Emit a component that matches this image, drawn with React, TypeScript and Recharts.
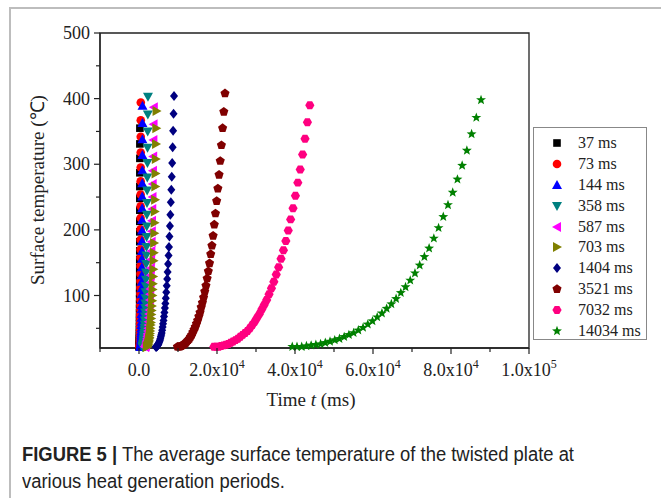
import { ScatterChart, Scatter, XAxis, YAxis, ReferenceArea, Legend } from "recharts";

// time (ms) / average surface temperature (°C) for each heat generation period
const time37 = [100, 103, 107, 110, 113, 116, 120, 123, 126, 129, 133, 136, 139, 142, 146, 149, 152, 155, 159, 162, 165, 168, 172, 175, 178, 181, 185, 188, 191, 194, 198, 201, 204, 207, 211, 214, 217, 220, 224, 227, 230];
const temp37 = [22, 22, 22, 23, 24, 25, 26, 27, 29, 31, 33, 35, 38, 41, 44, 48, 52, 57, 62, 67, 73, 80, 87, 95, 103, 111, 121, 132, 143, 155, 168, 182, 197, 213, 230, 248, 266, 287, 309, 331, 355];

const time73 = [200, 207, 213, 220, 226, 233, 239, 246, 252, 259, 265, 272, 278, 285, 291, 298, 304, 311, 317, 324, 330, 337, 343, 350, 356, 363, 369, 376, 382, 389, 395, 402, 408, 415, 421, 428, 434, 441, 447, 454, 460];
const temp73 = [22, 22, 22, 23, 24, 25, 26, 28, 30, 32, 34, 37, 40, 43, 47, 51, 56, 61, 67, 72, 79, 86, 94, 103, 112, 122, 133, 145, 158, 170, 185, 201, 218, 236, 254, 274, 295, 318, 342, 367, 394];

const time144 = [400, 413, 425, 438, 450, 463, 475, 488, 500, 513, 525, 538, 550, 563, 575, 588, 600, 613, 625, 638, 650, 663, 675, 688, 700, 713, 725, 738, 750, 763, 775, 788, 800, 813, 825, 838, 850, 863, 875, 888, 900];
const temp144 = [22, 22, 22, 23, 24, 25, 26, 28, 30, 32, 34, 37, 40, 43, 46, 50, 55, 60, 66, 72, 79, 85, 93, 102, 111, 121, 131, 143, 156, 168, 183, 199, 215, 233, 251, 271, 291, 314, 338, 363, 389];

const time358 = [900, 935, 970, 1005, 1040, 1075, 1110, 1145, 1180, 1215, 1250, 1285, 1320, 1355, 1390, 1425, 1460, 1495, 1530, 1565, 1600, 1635, 1670, 1705, 1740, 1775, 1810, 1845, 1880, 1915, 1950, 1985, 2020, 2055, 2090, 2125, 2160, 2195, 2230, 2265, 2300];
const temp358 = [22, 22, 22, 23, 24, 25, 26, 28, 30, 32, 34, 37, 40, 43, 47, 51, 56, 62, 68, 74, 81, 88, 96, 105, 114, 124, 135, 148, 161, 174, 189, 205, 223, 241, 260, 280, 302, 325, 350, 376, 403];

const time587 = [1500, 1560, 1620, 1670, 1730, 1790, 1850, 1900, 1960, 2020, 2080, 2130, 2190, 2250, 2310, 2360, 2420, 2480, 2540, 2590, 2650, 2710, 2770, 2820, 2880, 2940, 3000, 3050, 3110, 3170, 3230, 3280, 3340, 3400, 3460, 3510, 3570, 3630, 3690, 3740, 3800];
const temp587 = [22, 22, 22, 23, 24, 25, 26, 28, 30, 32, 34, 37, 40, 42, 46, 50, 55, 60, 66, 72, 78, 85, 93, 102, 110, 120, 131, 142, 155, 168, 182, 198, 214, 232, 250, 270, 290, 312, 337, 361, 387];

const time703 = [2000, 2060, 2130, 2190, 2250, 2310, 2380, 2440, 2500, 2560, 2630, 2690, 2750, 2810, 2880, 2940, 3000, 3060, 3130, 3190, 3250, 3310, 3380, 3440, 3500, 3560, 3630, 3690, 3750, 3810, 3880, 3940, 4000, 4060, 4130, 4190, 4250, 4310, 4380, 4440, 4500];
const temp703 = [22, 22, 22, 23, 24, 25, 26, 28, 30, 32, 34, 36, 39, 42, 46, 50, 55, 59, 65, 71, 77, 84, 92, 100, 109, 118, 129, 140, 153, 165, 180, 195, 211, 228, 246, 266, 286, 308, 331, 355, 381];

const time1404 = [4300, 4420, 4530, 4650, 4770, 4890, 5000, 5120, 5240, 5350, 5470, 5590, 5700, 5820, 5940, 6060, 6170, 6290, 6410, 6520, 6640, 6760, 6870, 6990, 7110, 7230, 7340, 7460, 7580, 7690, 7810, 7930, 8040, 8160, 8280, 8400, 8510, 8630, 8750, 8860, 8980];
const temp1404 = [22, 22, 22, 23, 24, 25, 26, 28, 30, 32, 34, 37, 40, 43, 47, 52, 57, 62, 68, 74, 81, 88, 96, 105, 115, 125, 136, 148, 161, 174, 190, 206, 223, 242, 261, 281, 302, 326, 351, 377, 404];

const time3521 = [9850, 10155, 10460, 10765, 11070, 11375, 11680, 11985, 12290, 12595, 12900, 13205, 13510, 13815, 14120, 14425, 14730, 15035, 15340, 15645, 15950, 16255, 16560, 16865, 17170, 17475, 17780, 18085, 18390, 18695, 19000, 19305, 19610, 19915, 20220, 20525, 20830, 21135, 21440, 21745, 22050];
const temp3521 = [22, 22, 22, 23, 24, 25, 26, 28, 30, 32, 34, 37, 40, 44, 48, 52, 57, 62, 68, 74, 82, 89, 97, 106, 115, 126, 137, 149, 163, 176, 191, 208, 225, 244, 263, 284, 305, 329, 355, 380, 408];

const time7032 = [19200, 19815, 20430, 21045, 21660, 22275, 22890, 23505, 24120, 24735, 25350, 25965, 26580, 27195, 27810, 28425, 29040, 29655, 30270, 30885, 31500, 32115, 32730, 33345, 33960, 34575, 35190, 35805, 36420, 37035, 37650, 38265, 38880, 39495, 40110, 40725, 41340, 41955, 42570, 43185, 43800];
const temp7032 = [22, 22, 22, 23, 24, 25, 26, 28, 30, 32, 34, 37, 40, 43, 46, 50, 55, 60, 66, 72, 79, 86, 93, 102, 111, 121, 132, 143, 156, 169, 183, 199, 216, 233, 252, 272, 292, 315, 339, 364, 390];

const time14034 = [39300, 40510, 41720, 42930, 44140, 45350, 46560, 47770, 48980, 50190, 51400, 52610, 53820, 55030, 56240, 57450, 58660, 59870, 61080, 62290, 63500, 64710, 65920, 67130, 68340, 69550, 70760, 71970, 73180, 74390, 75600, 76810, 78020, 79230, 80440, 81650, 82860, 84070, 85280, 86490, 87700];
const temp14034 = [22, 22, 22, 23, 24, 25, 26, 28, 30, 32, 34, 37, 40, 43, 47, 51, 56, 61, 67, 73, 80, 87, 95, 104, 113, 123, 134, 146, 159, 172, 187, 203, 220, 238, 257, 277, 298, 321, 346, 371, 398];

const seriesNames = ["37 ms", "73 ms", "144 ms", "358 ms", "587 ms", "703 ms", "1404 ms", "3521 ms", "7032 ms", "14034 ms"];
const seriesTimes = [time37, time73, time144, time358, time587, time703, time1404, time3521, time7032, time14034];
const seriesTemps = [temp37, temp73, temp144, temp358, temp587, temp703, temp1404, temp3521, temp7032, temp14034];
const seriesColors = ["#000000", "#ff0000", "#0000ff", "#008080", "#ff00ff", "#808000", "#000080", "#800000", "#ff0080", "#008000"];
const seriesShapes = ["square", "circle", "up", "down", "left", "right", "diamond", "pentagon", "hexagon", "star"];

const xTicks = [-10000, 0, 10000, 20000, 30000, 40000, 50000, 60000, 70000, 80000, 90000, 100000];
const xMajor = [0, 20000, 40000, 60000, 80000, 100000];
const xLabelBase = ["0.0", "2.0x10", "4.0x10", "6.0x10", "8.0x10", "1.0x10"];
const xLabelExp = ["", "4", "4", "4", "4", "5"];
const yTicks = [50, 100, 150, 200, 250, 300, 350, 400, 450, 500];
const yMajor = [100, 200, 300, 400, 500];

const serif = "'Liberation Serif', 'Times New Roman', serif";
const axisColor = "#222";

const series = seriesNames.map((name, i) => ({
  name,
  color: seriesColors[i],
  kind: seriesShapes[i],
  data: seriesTimes[i].map((t, j) => ({ t, T: seriesTemps[i][j] })),
}));

function polygon(cx: number, cy: number, r: number, n: number, rot: number) {
  const pts: string[] = [];
  for (let k = 0; k < n; k++) {
    const a = rot + (k * 2 * Math.PI) / n;
    pts.push(`${cx + r * Math.cos(a)},${cy + r * Math.sin(a)}`);
  }
  return pts.join(" ");
}

function starPoints(cx: number, cy: number, ro: number, ri: number) {
  const pts: string[] = [];
  for (let k = 0; k < 10; k++) {
    const a = -Math.PI / 2 + (k * Math.PI) / 5;
    const r = k % 2 === 0 ? ro : ri;
    pts.push(`${cx + r * Math.cos(a)},${cy + r * Math.sin(a)}`);
  }
  return pts.join(" ");
}

function Marker({ cx, cy, kind, color }: { cx: number; cy: number; kind: string; color: string }) {
  if (cx == null || cy == null) return null;
  switch (kind) {
    case "square":
      return <rect x={cx - 3.8} y={cy - 3.8} width={7.6} height={7.6} fill={color} />;
    case "circle":
      return <circle cx={cx} cy={cy} r={4.3} fill={color} />;
    case "up":
      return <polygon points={`${cx},${cy - 5} ${cx - 5},${cy + 4} ${cx + 5},${cy + 4}`} fill={color} />;
    case "down":
      return <polygon points={`${cx},${cy + 5} ${cx - 5},${cy - 4} ${cx + 5},${cy - 4}`} fill={color} />;
    case "left":
      return <polygon points={`${cx - 5},${cy} ${cx + 4},${cy - 5} ${cx + 4},${cy + 5}`} fill={color} />;
    case "right":
      return <polygon points={`${cx + 5},${cy} ${cx - 4},${cy - 5} ${cx - 4},${cy + 5}`} fill={color} />;
    case "diamond":
      return <polygon points={`${cx},${cy - 5} ${cx + 4},${cy} ${cx},${cy + 5} ${cx - 4},${cy}`} fill={color} />;
    case "pentagon":
      return <polygon points={polygon(cx, cy, 4.8, 5, -Math.PI / 2)} fill={color} />;
    case "hexagon":
      return <polygon points={polygon(cx, cy, 4.6, 6, 0)} fill={color} />;
    default:
      return <polygon points={starPoints(cx, cy, 5.2, 2.2)} fill={color} />;
  }
}

function XTick({ x, y, payload }: any) {
  const v = payload.value;
  const idx = xMajor.indexOf(v);
  const major = idx >= 0;
  return (
    <g>
      <line x1={x} y1={y} x2={x} y2={y + (major ? 6 : 4)} stroke={axisColor} strokeWidth={1.2} />
      {major && (
        <text x={x} y={y + 28} textAnchor="middle" fontFamily={serif} fontSize={18} fill="#222">
          <tspan>{xLabelBase[idx]}</tspan>
          {xLabelExp[idx] && (
            <tspan dy={-8} fontSize={12}>
              {xLabelExp[idx]}
            </tspan>
          )}
        </text>
      )}
    </g>
  );
}

function YTick({ x, y, payload }: any) {
  const v = payload.value;
  const major = yMajor.includes(v);
  return (
    <g>
      <line x1={x} y1={y} x2={x - (major ? 6 : 4)} y2={y} stroke={axisColor} strokeWidth={1.2} />
      {major && (
        <text x={x - 10} y={y + 6} textAnchor="end" fontFamily={serif} fontSize={18} fill="#222">
          {v}
        </text>
      )}
    </g>
  );
}

function LegendBox() {
  return (
    <div
      style={{
        width: 114,
        height: 213,
        border: "1px solid #888",
        background: "#fff",
        paddingTop: 5,
        boxSizing: "border-box",
        fontFamily: serif,
        fontSize: 16,
        color: "#222",
      }}
    >
      {series.map((s) => (
        <div key={s.name} style={{ display: "flex", alignItems: "center", height: 20.8 }}>
          <svg width={44} height={20} style={{ flex: "none" }}>
            <Marker cx={23} cy={10} kind={s.kind} color={s.color} />
          </svg>
          <span style={{ whiteSpace: "nowrap" }}>{s.name}</span>
        </div>
      ))}
    </div>
  );
}

export default function App() {
  return (
    <div style={{ position: "absolute", left: 0, top: 0, width: 661, height: 498, background: "#fff", overflow: "hidden" }}>
      <div
        style={{
          position: "absolute",
          left: 9,
          top: 7,
          width: 660,
          height: 500,
          borderTop: "2px solid #bdbdbd",
          borderLeft: "2px solid #bdbdbd",
        }}
      />
      <div style={{ position: "absolute", left: 0, top: 0 }}>
        <ScatterChart width={661} height={420} margin={{ top: 33, right: 132, bottom: 0, left: 0 }}>
          <XAxis
            type="number"
            dataKey="t"
            domain={[-10000, 100000]}
            ticks={xTicks}
            interval={0}
            height={72}
            tickSize={0}
            tickMargin={0}
            tickLine={false}
            tick={<XTick />}
            axisLine={{ stroke: axisColor, strokeWidth: 1.3 }}
            label={{
              content: () => (
                <text x={311} y={406} textAnchor="middle" fontFamily={serif} fontSize={19} fill="#222">
                  Time <tspan fontStyle="italic">t</tspan> (ms)
                </text>
              ),
            }}
          />
          <YAxis
            type="number"
            dataKey="T"
            domain={[20, 500]}
            ticks={yTicks}
            interval={0}
            width={100}
            tickSize={0}
            tickMargin={0}
            tickLine={false}
            tick={<YTick />}
            axisLine={{ stroke: axisColor, strokeWidth: 1.3 }}
            label={{
              content: () => (
                <text
                  x={37}
                  y={190}
                  transform="rotate(-90 37 190)"
                  textAnchor="middle"
                  dominantBaseline="central"
                  fontFamily={serif}
                  fontSize={19}
                  fill="#222"
                >
                  Surface temperature (℃)
                </text>
              ),
            }}
          />
          <ReferenceArea x1={-10000} x2={100000} y1={20} y2={500} fill="none" stroke={axisColor} strokeWidth={1.3} />
          {series.map((s) => (
            <Scatter
              key={s.name}
              name={s.name}
              data={s.data}
              fill={s.color}
              isAnimationActive={false}
              shape={(p: any) => <Marker cx={p.cx} cy={p.cy} kind={s.kind} color={s.color} />}
            />
          ))}
          <Legend
            layout="vertical"
            align="center"
            verticalAlign="middle"
            wrapperStyle={{ left: 533, top: 127, width: 114, height: 213 }}
            content={() => <LegendBox />}
          />
        </ScatterChart>
      </div>
      <div
        style={{
          position: "absolute",
          left: 22,
          top: 441,
          fontFamily: "'Liberation Sans', Arial, sans-serif",
          fontSize: 20,
          lineHeight: "27px",
          color: "#222",
          whiteSpace: "nowrap",
          transform: "scaleX(0.92)",
          transformOrigin: "0 0",
        }}
      >
        <b>FIGURE 5 |</b> The average surface temperature of the twisted plate at
        <br />
        various heat generation periods.
      </div>
    </div>
  );
}
